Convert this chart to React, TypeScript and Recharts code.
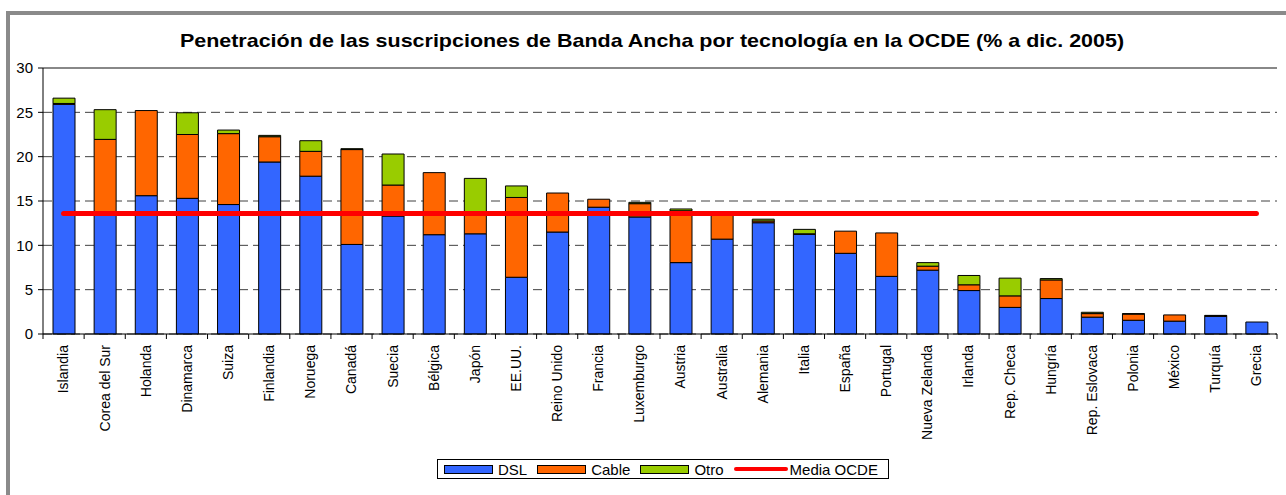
import { Bar, Line, XAxis, YAxis, CartesianGrid, Legend, ReferenceLine, ComposedChart } from 'recharts'

const countries = [
  'Islandia', 'Corea del Sur', 'Holanda', 'Dinamarca', 'Suiza', 'Finlandia', 'Noruega', 'Canadá',
  'Suecia', 'Bélgica', 'Japón', 'EE.UU.', 'Reino Unido', 'Francia', 'Luxemburgo', 'Austria',
  'Australia', 'Alemania', 'Italia', 'España', 'Portugal', 'Nueva Zelanda', 'Irlanda', 'Rep. Checa',
  'Hungría', 'Rep. Eslovaca', 'Polonia', 'México', 'Turquía', 'Grecia',
]
const dsl = [
  25.9, 13.5, 15.6, 15.3, 14.6, 19.4, 17.8, 10.1, 13.3, 11.2, 11.3, 6.4, 11.5, 14.3, 13.2, 8.05,
  10.7, 12.55, 11.25, 9.1, 6.5, 7.2, 4.9, 3.0, 4.0, 1.9, 1.55, 1.45, 2.0, 1.35,
]
const cable = [
  0.1, 8.45, 9.6, 7.2, 8.0, 2.85, 2.8, 10.7, 3.5, 7.0, 2.5, 9.0, 4.4, 0.9, 1.5, 5.85,
  2.8, 0.2, 0.05, 2.5, 4.9, 0.45, 0.65, 1.3, 2.1, 0.4, 0.7, 0.7, 0.05, 0,
]
const otro = [
  0.6, 3.35, 0, 2.45, 0.4, 0.15, 1.2, 0.1, 3.5, 0, 3.75, 1.3, 0, 0, 0.15, 0.2,
  0, 0.2, 0.5, 0, 0, 0.4, 1.05, 2.0, 0.15, 0.15, 0.05, 0, 0.05, 0,
]
const mediaOCDE = 13.6
const yTicks = [0, 5, 10, 15, 20, 25, 30]

const legendItems = [
  { name: 'DSL', color: '#3366FF', kind: 'rect' },
  { name: 'Cable', color: '#FF6600', kind: 'rect' },
  { name: 'Otro', color: '#99CC00', kind: 'rect' },
  { name: 'Media OCDE', color: '#FF0000', kind: 'line' },
]

const W = 1286
const H = 495
const MARGIN = { top: 68, right: 9, left: 0, bottom: 0 }
const Y_AXIS_W = 43
const X_AXIS_H = 161
const FONT = '"Liberation Sans", Arial, sans-serif'

const step = (W - MARGIN.right - MARGIN.left - Y_AXIS_W) / countries.length

const data = countries.map((name, i) => ({
  name,
  dsl: dsl[i],
  cable: cable[i],
  otro: otro[i],
  media: mediaOCDE,
}))

// ticks sit between categories, like the spreadsheet original
const CategoryTick = (props: any) => {
  const { x, y, payload, index } = props
  const axisY = y - 7
  return (
    <g>
      <line x1={x - step / 2} x2={x - step / 2} y1={axisY} y2={axisY + 5} stroke="#000" />
      {index === countries.length - 1 && (
        <line x1={x + step / 2} x2={x + step / 2} y1={axisY} y2={axisY + 5} stroke="#000" />
      )}
      <text
        transform={`translate(${x},${axisY + 11}) rotate(-90)`}
        textAnchor="end"
        dy="0.35em"
        fontSize={14}
        fontFamily={FONT}
        fill="#000"
      >
        {payload.value}
      </text>
    </g>
  )
}

const renderLegend = () => (
  <div
    style={{
      display: 'flex',
      alignItems: 'center',
      border: '1px solid #000',
      background: '#fff',
      height: 20,
      boxSizing: 'border-box',
      padding: '0 0 0 6px',
      fontFamily: FONT,
      fontSize: 15,
      color: '#000',
      whiteSpace: 'nowrap',
    }}
  >
    {legendItems.map((item) => (
      <div key={item.name} style={{ display: 'flex', alignItems: 'center', marginRight: 10 }}>
        {item.kind === 'rect' ? (
          <div style={{ width: 49, height: 9, boxSizing: 'border-box', background: item.color, border: '1px solid #000', marginRight: 5 }} />
        ) : (
          <div style={{ width: 54, height: 4, background: item.color, borderRadius: 2, marginRight: 2 }} />
        )}
        <span>{item.name}</span>
      </div>
    ))}
  </div>
)

export default function App() {
  return (
    <div style={{ position: 'absolute', left: 0, top: 0, width: W, height: H, overflow: 'hidden', background: '#fff' }}>
      <div
        style={{
          position: 'absolute',
          left: 6,
          top: 11,
          width: W + 20,
          height: H + 20,
          border: '4px solid #8a8a8a',
        }}
      />
      <div
        style={{
          position: 'absolute',
          left: 0,
          top: 30,
          width: 1304,
          textAlign: 'center',
          fontFamily: FONT,
          fontWeight: 'bold',
          fontSize: 19,
          lineHeight: 'normal',
          color: '#000',
          whiteSpace: 'nowrap',
          transform: 'scaleX(1.13)',
          transformOrigin: '652px 0',
        }}
      >
        Penetración de las suscripciones de Banda Ancha por tecnología en la OCDE (% a dic. 2005)
      </div>
      <div style={{ position: 'absolute', left: 0, top: 0 }}>
        <ComposedChart width={W} height={H} data={data} margin={MARGIN} barSize={22}>
          <CartesianGrid vertical={false} horizontal stroke="#404040" strokeDasharray="9 5" />
          <XAxis
            dataKey="name"
            height={X_AXIS_H}
            interval={0}
            tickLine={false}
            tickSize={5}
            tickMargin={2}
            axisLine={{ stroke: '#000' }}
            tick={<CategoryTick />}
          />
          <YAxis
            width={Y_AXIS_W}
            domain={[0, 30]}
            ticks={yTicks}
            interval={0}
            tickSize={5}
            tickMargin={5}
            axisLine={{ stroke: '#000' }}
            tickLine={{ stroke: '#000' }}
            tick={{ fill: '#000', fontSize: 15, fontFamily: FONT }}
          />
          <YAxis
            yAxisId="border"
            orientation="right"
            width={0}
            domain={[0, 30]}
            tick={false}
            tickLine={false}
            axisLine={{ stroke: '#888', strokeWidth: 2 }}
          />
          <ReferenceLine y={30} stroke="#888" strokeWidth={2} />
          <Bar dataKey="dsl" name="DSL" stackId="a" fill="#3366FF" stroke="#000" strokeWidth={1} isAnimationActive={false} />
          <Bar dataKey="cable" name="Cable" stackId="a" fill="#FF6600" stroke="#000" strokeWidth={1} isAnimationActive={false} />
          <Bar dataKey="otro" name="Otro" stackId="a" fill="#99CC00" stroke="#000" strokeWidth={1} isAnimationActive={false} />
          <Line
            dataKey="media"
            name="Media OCDE"
            stroke="#FF0000"
            strokeWidth={5}
            strokeLinecap="round"
            dot={false}
            activeDot={false}
            isAnimationActive={false}
          />
          <Legend
            layout="horizontal"
            verticalAlign="middle"
            align="center"
            content={renderLegend}
            wrapperStyle={{ top: 459, left: 437, width: 452, height: 20 }}
          />
        </ComposedChart>
      </div>
    </div>
  )
}
